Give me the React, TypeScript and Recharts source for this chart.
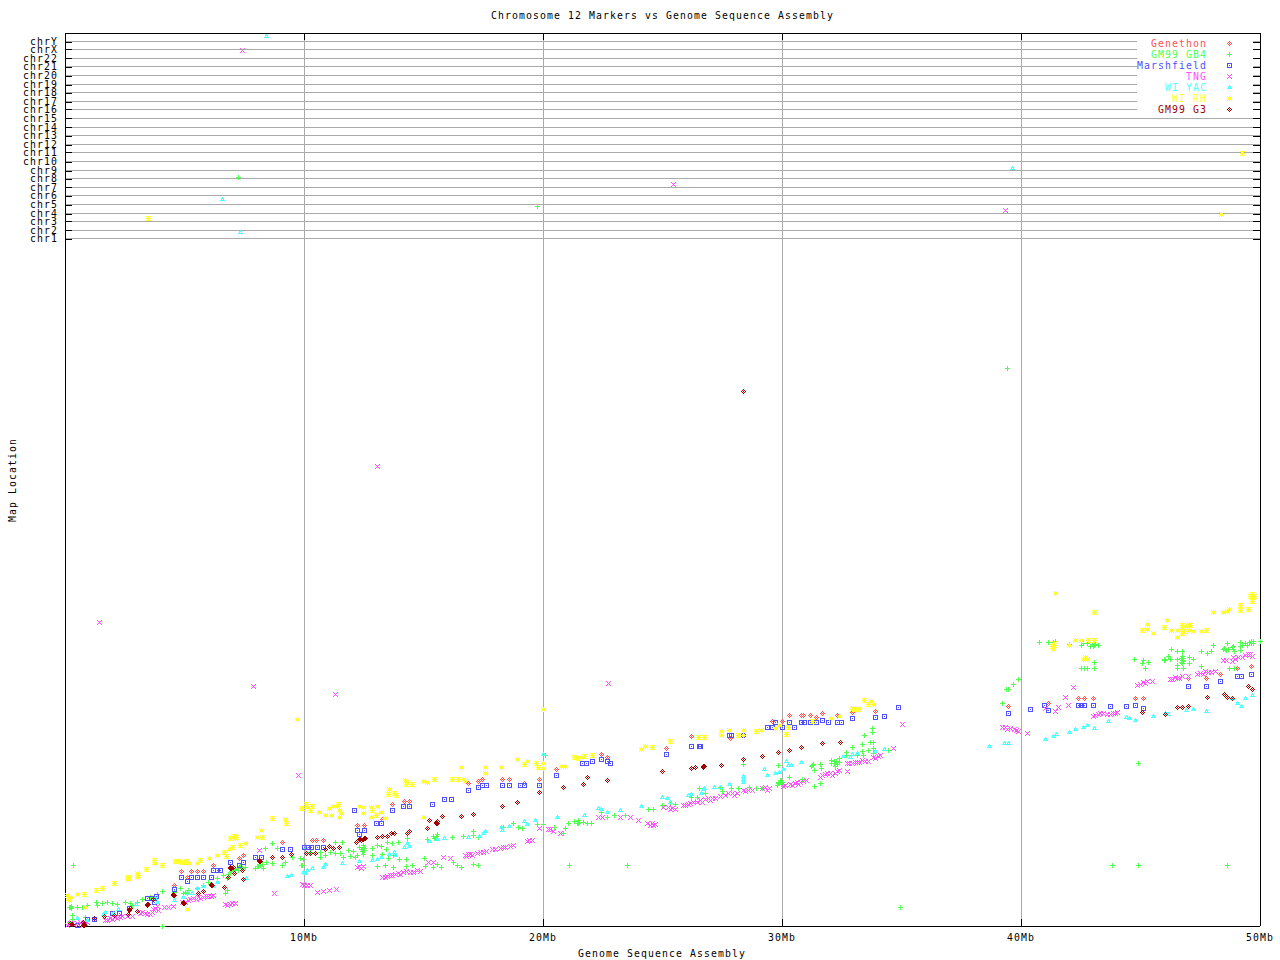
import { ScatterChart, Scatter, XAxis, YAxis, CartesianGrid, ReferenceLine } from "recharts";

type Pt = [number, number];

const CHR_LABELS = ["chr1","chr2","chr3","chr4","chr5","chr6","chr7","chr8","chr9","chr10","chr11","chr12","chr13","chr14","chr15","chr16","chr17","chr18","chr19","chr20","chr21","chr22","chrX","chrY"];
const CHR_TICKS = [687.5,695.5,704.5,712.5,721.5,730.5,738.5,747.5,755.5,764.5,773.5,781.5,790.5,798.5,807.5,816.5,824.5,833.5,841.5,850.5,859.5,867.5,876.5,884.5];
const MB_TICKS = [10, 20, 30, 40, 50];

// [Mb, map location]
const genethon: Pt[] = [[4.56,41],[4.85,55],[5.10,49],[5.27,55],[5.52,55],[5.77,55],[6.19,61],[7.28,68],[7.45,71],[9.08,84],[10.33,86],[10.50,86],[10.79,86],[12.22,101],[12.51,101],[13.26,107],[13.68,122],[14.18,125],[14.39,125],[16.86,143],[17.28,145],[17.45,147],[18.28,147],[18.58,147],[19.20,143],[19.83,147],[20.54,157],[22.43,172],[22.68,169],[25.15,178],[26.19,190],[27.82,188],[29.58,205],[30.00,205],[30.29,211],[30.79,211],[30.88,211],[31.17,211],[31.42,209],[31.67,213],[32.30,211],[32.93,214],[33.89,215],[39.46,220],[41.13,223],[42.38,228],[42.64,228],[43.01,228],[44.77,228],[45.10,228],[46.99,248],[47.74,248],[48.33,252],[49.04,258],[49.62,260]];

const gb4: Pt[] = [[0.33,61],[0.21,19],[0.50,19],[0.71,19],[0.92,21],[0.29,11],[0.29,7],[0.84,9],[0.17,4],[1.30,24],[1.34,21],[1.55,23],[1.76,24],[1.97,23],[2.18,22],[2.51,24],[2.72,23],[2.80,21],[3.01,24],[3.22,27],[3.56,29],[3.85,32],[4.06,35],[4.06,0],[4.56,34],[4.81,38],[5.02,34],[5.15,36],[4.94,33],[5.10,33],[5.52,38],[5.77,41],[5.98,44],[6.36,48],[6.69,33],[6.78,36],[6.61,51],[6.78,48],[6.90,53],[7.03,56],[7.20,58],[7.41,58],[7.53,59],[7.95,58],[8.03,60],[8.16,61],[8.41,64],[8.66,83],[8.66,63],[9.08,61],[9.21,64],[8.87,78],[8.37,78],[9.50,69],[9.87,61],[9.96,67],[10.04,78],
[9.83,68],[9.92,61],[10.04,81],[10.25,74],[10.67,74],[10.67,69],[10.88,71],[11.09,74],[11.30,84],[11.59,84],[11.30,73],[11.51,73],[11.63,69],[11.84,76],[11.92,70],[12.05,75],[12.13,69],[12.30,79],[12.47,79],[12.47,81],[12.22,71],[12.47,72],[12.84,78],[12.84,71],[13.05,81],[13.22,80],[13.26,72],[13.43,77],[13.47,84],[13.68,83],[13.93,84],[13.05,60],[13.39,61],[13.72,59],[13.51,68],[13.72,71],[13.97,67],[14.27,67],[14.27,60],[14.52,61],[14.31,88],[15.15,87],[15.02,68],[15.06,60],[15.40,59],[15.56,62],[15.73,59],[15.40,90],[15.48,88],[15.56,92],[16.19,89],[16.23,64],[16.40,61],[16.57,59],[16.65,90],[17.07,95],[17.07,91],[17.28,89],[17.07,62],[17.28,61],[18.33,99],[18.74,103],[18.95,99],[19.12,98],[19.75,102],[20.00,102],[20.08,171],
[20.46,99],[20.84,93],[20.92,98],[21.05,103],[21.30,105],[21.46,106],[21.46,103],[21.67,104],[21.84,103],[22.01,103],[22.43,114],[22.68,109],[22.97,111],[23.43,111],[24.39,117],[24.60,117],[24.98,121],[25.52,122],[25.31,123],[26.19,129],[26.44,129],[26.53,138],[26.78,133],[26.36,125],[27.40,139],[27.49,135],[27.87,138],[28.16,138],[28.62,139],[28.37,162],[28.91,138],[29.16,138],[29.83,161],[29.92,146],[29.83,143],[30.00,144],[29.79,141],[30.29,149],[30.84,147],[31.34,140],[31.59,143],[31.25,161],[31.34,156],[31.59,162],[31.63,158],[32.05,166],[32.05,163],[32.18,163],[32.22,160],[32.38,168],[32.38,164],[32.68,174],[32.68,171],[32.93,179],[33.14,171],[33.35,182],[33.39,171],[33.35,175],[33.43,191],[33.60,176],[33.68,184],[33.77,198],[33.77,194],[33.81,184],[33.81,178],[33.81,173],[34.44,176],
[39.21,223],[39.37,237],[39.46,237],[39.67,242],[39.87,247],[40.75,284],[41.13,284],[41.34,284],[41.42,285],[42.01,282],[42.51,281],[42.59,283],[42.76,283],[42.89,280],[43.01,280],[43.10,282],[43.22,281],[43.05,264],[43.05,258],[42.51,258],[42.64,258],[42.76,258],[44.73,267],[45.10,266],[45.06,263],[45.19,258],[45.31,264],[45.98,267],[46.03,266],[46.15,270],[46.23,267],[46.28,277],[46.53,275],[46.53,267],[46.53,261],[46.53,258],[46.74,275],[46.74,270],[46.74,266],[46.74,263],[46.78,258],[47.03,269],[47.03,263],[47.20,267],[47.53,275],[47.53,260],[47.78,273],[47.95,275],[48.03,281],[48.45,277],[48.54,277],[48.62,283],[48.66,277],[48.70,258],[48.87,280],[48.87,277],[48.91,258],[49.16,284],[49.16,280],[49.16,276],[49.37,283],[49.46,281],[49.62,285],[49.71,283],[50.00,285],
[7.24,749],[19.75,720],[39.41,558],[34.94,19],[21.09,61],[23.51,61],[43.81,61],[44.90,61],[44.90,163],[48.62,61],
[6.82,52],[6.94,55],[7.11,57],[7.24,56],[7.32,60],[8.07,60],[8.24,62],[8.28,58],[12.38,77],[12.43,75],[12.51,78],[12.51,76],[15.44,88],[15.52,90],[48.49,278],[48.58,276],[48.83,279],[48.91,275],[46.69,268],[46.78,268],[46.78,265],[46.69,264],[49.25,281],[49.54,284],[49.62,283],[49.71,285],[43.05,281],[42.97,282],[45.98,266],[32.26,165],[32.22,163],[32.30,162],[32.18,165],[29.83,144],[29.96,146],[29.96,142],[31.21,160],[31.30,162],[21.42,103],[21.51,104],[0.17,19],[0.25,20],[0.25,18]];

const marshfield: Pt[] = [[0.50,1],[0.92,7],[1.21,7],[1.97,13],[2.26,13],[2.68,18],[3.43,28],[3.60,28],[3.72,24],[3.81,30],[4.56,37],[4.85,49],[5.10,45],[5.27,49],[5.52,49],[5.77,49],[6.11,49],[6.19,56],[6.36,56],[6.49,56],[6.90,64],[7.28,61],[7.45,64],[7.95,69],[8.20,69],[9.08,77],[9.41,77],[10.00,79],[10.17,79],[10.29,79],[10.54,79],[10.79,79],[12.09,116],[12.22,96],[12.51,96],[12.30,92],[13.01,103],[13.22,103],[13.68,116],[14.14,120],[14.39,120],[15.36,122],[15.86,127],[16.15,127],[16.86,136],[17.28,139],[17.45,141],[17.62,141],[18.28,141],[18.58,141],[19.04,141],[19.20,141],[19.83,141],[20.54,151],[21.63,163],[21.80,163],[22.05,165],[22.43,167],[22.68,165],[22.80,163],[25.15,172],[26.19,180],[26.53,180],[26.57,180],[27.78,191],[27.87,191],[28.37,191],[29.37,199],[29.58,199],[29.71,204],[30.00,199],[30.29,204],[30.50,199],[30.79,204],[30.92,204],[31.17,204],[31.42,204],[31.67,206],[31.92,204],[32.30,204],[32.47,204],[32.93,208],[33.89,209],[34.27,210],[34.85,219],[39.46,213],[40.38,217],[40.96,221],[41.13,216],[42.38,221],[42.51,221],[42.64,221],[43.01,221],[43.72,220],[44.39,220],[44.77,221],[45.10,218],[46.99,240],[47.74,240],[48.33,245],[49.04,250],[49.21,250],[49.62,252]];

const tng: Pt[] = [[0.08,1],[0.29,3],[0.50,3],[0.75,3],[0.92,4],[1.67,6],[1.88,8],[2.09,9],[2.30,9],[2.59,10],[2.80,10],[3.14,13],[3.35,13],[3.56,12],[3.77,18],[4.14,19],[4.31,19],[4.52,20],[4.90,24],[5.15,26],[5.36,28],[5.56,29],[5.77,29],[5.98,30],[6.19,31],[6.69,22],[6.90,22],[7.11,23],[8.12,76],[8.74,33],[9.92,42],[10.13,41],[10.25,41],[10.54,34],[10.79,35],[11.05,36],[11.34,37],[12.22,59],[12.47,60],[13.26,49],[13.47,50],[13.68,51],[13.93,53],[14.14,54],[14.44,54],[14.73,56],[15.19,64],[15.40,64],[15.82,69],[16.11,68],[16.74,71],[16.95,72],[17.24,73],[17.49,74],[17.87,77],[18.20,78],[18.41,79],[18.74,81],[19.33,85],[19.54,86],[19.83,98],[20.21,97],[20.29,97],[20.42,95],[20.71,93],[22.30,109],[22.47,109],[23.22,109],[23.64,109],[23.97,106],[24.35,103],[24.60,101],[25.02,119],[25.40,118],[25.52,117],[25.86,121],[26.15,123],[26.44,124],[26.78,127],[27.07,128],[27.40,130],[27.74,133],[28.12,133],[28.37,136],[28.58,136],[29.16,138],[29.46,138],[30.04,140],[30.33,142],[30.54,143],[30.75,144],[31.00,146],[31.59,149],[31.80,152],[32.01,153],[32.22,153],[32.38,156],[32.72,155],[32.72,163],[32.93,163],[33.14,164],[33.47,165],[33.81,169],[34.02,170],[34.64,178],[35.02,202],[39.21,199],[39.54,198],[39.87,195],[40.25,193],[41.84,229],[42.18,239],[41.00,218],[41.42,215],[41.55,219],[41.97,221],[43.01,210],[43.22,212],[43.60,212],[43.85,213],[44.02,214],[44.85,241],[45.10,244],[45.48,245],[46.23,247],[46.53,248],[46.74,250],[46.99,250],[47.49,253],[47.82,254],[48.12,255],[48.45,266],[48.83,265],[48.87,269],[49.25,269],[49.50,272],
[7.41,876],[39.33,716],[48.37,712],[11.30,232],[9.75,151],[22.72,243],[1.42,304],[7.87,240],[13.05,460],[25.44,742],
[1.76,6],[1.97,7],[2.18,8],[2.38,10],[3.22,14],[3.43,12],[3.64,14],[3.68,17],[3.85,20],[3.89,16],[5.02,24],[5.23,27],[5.48,27],[5.65,28],[5.90,30],[6.11,30],[6.78,21],[6.99,23],[13.39,49],[13.60,51],[13.81,52],[14.02,52],[14.27,55],[14.56,54],[14.85,55],[12.30,60],[12.38,58],[10.00,41],[16.78,70],[16.86,72],[17.03,71],[17.36,74],[17.62,75],[17.99,77],[18.33,79],[18.62,80],[19.41,86],[24.47,101],[24.69,102],[24.56,103],[25.23,119],[25.31,117],[25.94,121],[26.07,122],[26.28,124],[26.57,126],[26.65,124],[26.90,128],[26.99,126],[27.20,128],[27.61,131],[27.91,133],[27.99,131],[28.45,135],[28.74,136],[29.29,139],[29.37,136],[30.13,141],[30.42,141],[30.63,144],[30.67,142],[30.88,145],[31.67,151],[31.88,153],[32.09,151],[32.30,155],[32.80,163],[33.05,164],[33.22,164],[33.35,166],[33.60,165],[33.89,168],[34.10,171],[43.10,211],[43.30,213],[43.43,213],[43.72,212],[43.93,213],[44.98,242],[45.19,243],[45.27,245],[46.32,247],[46.44,249],[46.61,248],[47.36,252],[47.61,252],[47.70,255],[47.95,254],[48.58,266],[48.95,267],[49.08,269],[49.37,271],[49.58,272],[49.66,270],[39.33,199],[39.41,197],[39.71,197],[39.79,196],[0.21,3],[0.38,2],[0.63,4],[0.71,1],[0.84,3]];

const wiYac: Pt[] = [[0.50,8],[0.92,6],[1.59,12],[1.67,14],[2.01,13],[2.22,17],[2.97,22],[3.77,28],[3.85,24],[4.56,26],[4.94,29],[5.15,33],[5.31,33],[5.52,38],[5.77,40],[6.19,40],[6.36,44],[7.57,48],[9.29,50],[9.46,51],[9.96,54],[10.13,56],[10.04,53],[10.33,58],[10.79,59],[10.88,62],[11.59,63],[12.30,65],[12.84,66],[13.05,67],[13.22,69],[13.56,72],[13.81,71],[13.77,74],[14.18,79],[14.31,83],[14.39,80],[15.23,85],[15.56,87],[15.86,88],[16.86,89],[17.32,90],[17.49,93],[17.57,95],[18.24,99],[18.28,96],[18.58,100],[19.20,105],[19.33,102],[19.67,106],[20.00,172],[20.58,109],[21.72,111],[22.30,118],[22.43,117],[22.68,114],[23.22,116],[24.10,120],[24.98,129],[25.19,128],[25.31,124],[26.07,131],[26.19,132],[26.61,133],[26.69,137],[26.74,138],[27.15,139],[27.40,139],[27.78,142],[28.37,150],[28.37,147],[28.37,144],[29.25,157],[29.37,151],[29.71,153],[29.87,154],[30.04,157],[30.17,165],[30.25,161],[30.38,161],[30.79,164],[32.55,170],[32.85,169],[32.93,172],[33.14,173],[33.89,175],[34.27,177],[38.66,180],[39.29,183],[39.46,183],[41.00,187],[41.34,190],[41.46,192],[42.01,194],[42.26,197],[42.59,199],[42.76,201],[43.05,198],[43.64,205],[44.39,209],[44.52,208],[44.77,206],[45.52,210],[46.03,213],[46.15,212],[46.90,216],[47.20,217],[47.74,215],[48.83,228],[49.04,223],[49.21,220],[49.37,228],[49.66,231],
[8.41,890],[6.57,727],[7.32,694],[39.62,758]];

const wiRh: Pt[] = [[0.17,29],[0.13,28],[0.50,32],[0.79,32],[1.30,36],[1.55,38],[2.05,43],[2.64,48],[3.01,51],[3.39,57],[3.72,64],[4.06,61],[4.64,65],[4.98,64],[5.10,64],[5.52,63],[5.65,66],[6.02,68],[6.36,71],[6.65,74],[6.74,70],[6.86,77],[6.99,79],[7.32,81],[7.53,83],[7.03,89],[7.15,89],[8.20,96],[8.03,89],[8.24,89],[8.66,108],[9.21,107],[9.25,103],[9.87,118],[10.08,122],[5.10,17],[0.84,19],
[9.92,118],[10.13,119],[10.25,116],[10.33,120],[10.63,114],[10.88,111],[11.13,111],[11.05,118],[11.21,120],[11.38,120],[11.46,116],[11.55,113],[11.46,109],[12.30,120],[12.47,119],[12.47,113],[12.80,119],[13.05,120],[12.84,116],[13.22,114],[12.80,109],[13.01,111],[13.39,108],[13.51,132],[13.56,137],[13.77,133],[13.85,131],[14.27,144],[14.52,142],[14.98,109],[14.98,145],[15.15,144],[15.44,147],[16.19,147],[16.44,147],[16.65,147],[16.74,145],[16.57,159],[17.57,159],[17.57,153],[18.24,159],[18.91,167],[19.20,162],[19.33,165],[19.71,163],[19.79,159],[20.00,163],[20.00,158],[20.00,217],[20.75,160],[20.92,160],[21.30,169],[21.46,168],[21.59,169],[21.72,170],[22.05,171],[24.10,177],[24.27,180],[24.56,179],[25.31,185],[26.49,189],[26.74,189],[27.45,195],[27.45,191],[27.78,196],[28.16,191],[28.37,196],[28.37,191],[28.91,195],[29.12,196],[29.71,198],[29.87,201],[30.17,192],[30.25,199],[31.25,205],[32.05,208],[32.38,210],[32.93,217],[33.05,217],[33.18,217],[33.43,226],[33.60,222],[33.72,225],[33.81,222],
[41.42,333],[43.05,314],[41.38,281],[42.01,281],[42.26,286],[42.51,286],[42.80,286],[43.05,286],[42.68,267],[45.06,296],[45.27,302],[45.27,297],[45.52,293],[45.98,299],[46.11,306],[46.28,296],[46.53,296],[46.53,289],[46.74,301],[46.74,297],[46.74,293],[46.95,301],[47.07,301],[47.03,296],[47.20,295],[47.53,295],[47.74,296],[48.03,314],[48.45,314],[48.62,315],[48.70,317],[49.16,321],[49.16,316],[49.50,317],[49.66,332],[49.66,329],[49.66,325],
[3.47,708],[49.25,773],[48.37,712],[9.71,207],
[2.64,49],[2.59,47],[2.68,47],[3.01,53],[3.01,49],[3.05,51],[4.60,65],[4.72,65],[4.90,64],[5.06,65],[5.19,63],[3.72,66],[3.77,63],[0.17,26],[0.08,31],[0.25,29],[7.11,88],[6.90,88],[7.07,90],[14.27,142],[14.23,146],[14.31,144],[11.42,122],[32.97,218],[33.14,216],[33.22,218],[42.68,269],[42.59,267],[42.76,267],[41.38,283],[41.30,280],[41.34,277],[46.74,299],[46.82,295],[47.03,302],[46.86,300],[49.66,327],[49.75,330],[49.58,330]];

const g3: Pt[] = [[0.25,2],[0.75,4],[0.79,1],[1.21,8],[1.63,10],[2.05,11],[2.64,12],[2.68,17],[3.01,15],[3.43,22],[3.68,27],[4.52,31],[4.94,23],[5.56,33],[5.77,35],[6.11,41],[6.65,39],[6.82,49],[6.90,58],[7.03,59],[7.07,53],[7.41,56],[7.45,47],[8.12,65],[8.66,69],[9.08,69],[9.46,72],[10.08,73],[10.25,73],[10.46,73],[10.88,77],[11.05,80],[11.21,78],[11.46,79],[12.18,84],[12.30,87],[12.51,88],[13.05,89],[13.26,90],[13.47,90],[13.64,93],[13.77,93],[14.31,93],[14.39,95],[15.15,98],[15.23,106],[15.52,104],[15.56,103],[15.77,110],[16.57,110],[17.07,112],[18.28,120],[18.91,124],[19.83,134],[20.84,139],[21.67,142],[21.84,149],[22.68,146],[24.98,155],[26.19,158],[26.36,159],[26.69,160],[27.45,161],[28.37,167],[29.16,170],[29.83,174],[30.29,176],[30.79,179],[31.67,183],[32.43,184],[45.06,214],[46.03,212],[46.53,219],[46.74,219],[46.99,220],[47.78,229],[48.49,232],[48.62,229],[48.83,228],[49.50,240],[49.66,237],
[0.29,2],[0.21,3],[0.79,2],[0.75,1],[2.70,18],[2.68,16],[3.47,22],[3.43,21],[4.52,32],[4.56,31],[4.94,24],[4.98,23],[6.11,42],[6.15,41],[6.90,59],[6.94,58],[8.12,66],[8.16,65],[12.34,87],[12.38,86],[12.55,88],[12.22,85],[12.47,87],[15.52,103],[15.56,105],[26.69,159],[26.74,160],[28.37,535]];

const toRows = (pts: Pt[]) => pts.map(([x, y]) => ({ x, y }));

const FONT = "'DejaVu Sans Mono', monospace";
const FS = 9.8;
const LS = 1.1;
const LEFT = 65, TOP = 33, RIGHT = 1260, BOTTOM = 926, TICK = 7;

// small bitmap glyphs, same as the low-res point markers
const GLYPHS: Record<string, string[]> = {
  diamond: ["..X..", ".X.X.", "X.X.X", ".X.X.", "..X.."],
  plus: ["..X..", "..X..", "XXXXX", "..X..", "..X.."],
  box: ["XXXXX", "X...X", "X.X.X", "X...X", "XXXXX"],
  cross: ["X...X", ".X.X.", "..X..", ".X.X.", "X...X"],
  triangle: ["..X..", ".XXX.", ".X.X.", "XXXXX"],
  star: ["X.X.X", ".XXX.", "XXXXX", ".XXX.", "X.X.X"],
};

function Glyph({ cx, cy, kind, color }: { cx: number; cy: number; kind: string; color: string }) {
  const rows = GLYPHS[kind];
  const x0 = Math.round(cx) - 2;
  const y0 = Math.round(cy) - 2;
  let d = "";
  rows.forEach((row, j) => {
    for (let i = 0; i < row.length; i++) {
      if (row[i] === "X") d += `M${x0 + i} ${y0 + j}h1v1h-1z`;
    }
  });
  return <path d={d} fill={color} shapeRendering="crispEdges" />;
}

const SERIES = [
  { name: "Genethon", data: genethon, kind: "diamond", color: "#ff5050" },
  { name: "GM99 GB4", data: gb4, kind: "plus", color: "#50ff50" },
  { name: "Marshfield", data: marshfield, kind: "box", color: "#5050ff" },
  { name: "TNG", data: tng, kind: "cross", color: "#ff50ff" },
  { name: "WI YAC", data: wiYac, kind: "triangle", color: "#50ffff" },
  { name: "WI RH", data: wiRh, kind: "star", color: "#ffff30" },
  { name: "GM99 G3", data: g3, kind: "diamond", color: "#a00000" },
];

function ChrTick({ y, payload }: any) {
  const i = CHR_TICKS.indexOf(payload.value);
  const yy = Math.round(y) + 0.5;
  return (
    <g>
      <line x1={LEFT} x2={LEFT + TICK} y1={yy} y2={yy} stroke="#000" />
      <line x1={RIGHT - TICK} x2={RIGHT} y1={yy} y2={yy} stroke="#000" />
      <text x={58} y={y + 3.5} textAnchor="end" fontFamily={FONT} fontSize={FS} letterSpacing={LS} fill="#000">
        {CHR_LABELS[i]}
      </text>
    </g>
  );
}

function MbTick({ x, payload }: any) {
  const xx = Math.round(x) + 0.5;
  return (
    <g>
      <line x1={xx} x2={xx} y1={TOP} y2={TOP + TICK} stroke="#000" />
      <line x1={xx} x2={xx} y1={BOTTOM - TICK} y2={BOTTOM} stroke="#000" />
      <text x={x} y={940.5} textAnchor="middle" fontFamily={FONT} fontSize={FS} letterSpacing={LS} fill="#000">
        {payload.value}Mb
      </text>
    </g>
  );
}

export default function App() {
  return (
    <div style={{ position: "absolute", left: 0, top: 0, width: 1280, height: 960, background: "#fff", shapeRendering: "crispEdges" }}>
      <ScatterChart width={1280} height={960} margin={{ top: TOP, right: 1280 - RIGHT, bottom: 0, left: 0 }}>
        <CartesianGrid stroke="#aaaaaa" horizontalValues={CHR_TICKS} verticalValues={MB_TICKS} />
        <XAxis
          type="number"
          dataKey="x"
          domain={[0, 50]}
          ticks={MB_TICKS}
          interval={0}
          height={960 - BOTTOM}
          tickLine={false}
          axisLine={{ stroke: "#000" }}
          tick={<MbTick />}
        />
        <YAxis
          type="number"
          dataKey="y"
          domain={[0, 893]}
          ticks={CHR_TICKS}
          interval={0}
          width={LEFT}
          tickLine={false}
          axisLine={{ stroke: "#000" }}
          tick={<ChrTick />}
        />
        <ReferenceLine y={893} stroke="#000" />
        <ReferenceLine x={50} stroke="#000" />
        {SERIES.map((s) => (
          <Scatter
            key={s.name}
            name={s.name}
            data={toRows(s.data)}
            isAnimationActive={false}
            shape={(p: any) => <Glyph cx={p.cx} cy={p.cy} kind={s.kind} color={s.color} />}
          />
        ))}
      </ScatterChart>

      <svg width={1280} height={960} style={{ position: "absolute", left: 0, top: 0, pointerEvents: "none" }}>
        <text x={662.5} y={19} textAnchor="middle" fontFamily={FONT} fontSize={FS} letterSpacing={LS} fill="#000">
          Chromosome 12 Markers vs Genome Sequence Assembly
        </text>
        <text x={662} y={957} textAnchor="middle" fontFamily={FONT} fontSize={FS} letterSpacing={LS} fill="#000">
          Genome Sequence Assembly
        </text>
        <text
          x={15.5}
          y={480}
          textAnchor="middle"
          transform="rotate(-90 15.5 480)"
          fontFamily={FONT}
          fontSize={FS}
          letterSpacing={LS}
          fill="#000"
        >
          Map Location
        </text>
        <rect x={1137} y={37} width={116} height={77} fill="#fff" />
        {SERIES.map((s, i) => (
          <g key={s.name}>
            <text x={1207} y={46.5 + i * 11} textAnchor="end" fontFamily={FONT} fontSize={FS} letterSpacing={LS} fill={s.color}>
              {s.name}
            </text>
            <Glyph cx={1229} cy={42.5 + i * 11} kind={s.kind} color={s.color} />
          </g>
        ))}
      </svg>
    </div>
  );
}
